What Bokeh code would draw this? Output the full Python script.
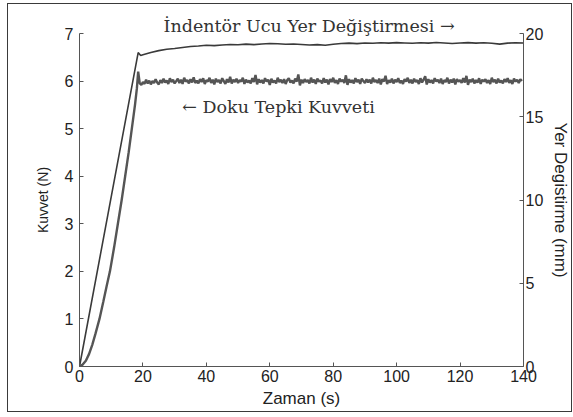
import numpy as np
from bokeh.plotting import figure
from bokeh.models import Range1d, LinearAxis, Label, FixedTicker
from bokeh.embed import file_html
from bokeh.resources import INLINE

# Doku tepki kuvveti (N): yükleme rampası
ramp_t = [0, 1, 2, 3, 4, 5, 6.3, 7.5, 8.5, 9.6, 10.9, 12.1, 13.3, 14.4,
          15.5, 16.5, 17.5, 18.1, 18.5, 19.0]
ramp_f = [0, 0.04, 0.12, 0.26, 0.45, 0.68, 1.0, 1.36, 1.67, 2.0, 2.5, 3.0,
          3.5, 4.0, 4.5, 5.0, 5.5, 5.85, 6.2, 5.95]

# Doku tepki kuvveti (N): sabit konumda tutma, 0.5 s aralıklarla
hold_start = 19.5
hold_step = 0.5
hold_f = [
    5.92, 5.98, 5.94, 6.03, 5.95, 6.01, 5.93, 6.00, 5.96, 6.04, 5.97, 5.93,
    6.02, 5.96, 6.05, 5.97, 6.01, 5.94, 6.06, 5.98, 6.03, 5.95, 6.00, 6.05,
    5.96, 6.03, 5.94, 6.07, 5.99, 6.02, 5.95, 6.04, 5.97, 6.08, 5.96, 6.01,
    5.95, 6.04, 5.98, 6.06, 5.94, 6.02, 5.99, 6.07, 5.96, 6.03, 5.93, 6.05,
    5.98, 6.02, 5.95, 6.06, 6.00, 5.94, 6.04, 5.97, 6.09, 5.95, 6.03, 5.98,
    6.05, 5.96, 6.02, 5.99, 6.07, 5.94, 6.03, 5.97, 6.01, 5.95, 6.06, 5.98,
    6.13, 5.93, 6.04, 5.97, 6.02, 5.95, 6.06, 5.99, 6.03, 5.92, 6.05, 5.97,
    6.01, 5.95, 6.07, 5.98, 6.03, 5.96, 6.04, 5.94, 6.02, 6.06, 5.97, 6.01,
    5.95, 6.05, 5.99, 6.14, 5.91, 6.03, 5.96, 6.04, 5.98, 6.02, 5.95, 6.07,
    5.97, 6.03, 5.94, 6.05, 5.99, 6.01, 5.95, 6.06, 5.97, 6.03, 5.93, 6.04,
    5.98, 6.07, 5.96, 6.02, 5.94, 6.05, 5.99, 6.03, 5.96, 6.12, 5.92, 6.04,
    5.97, 6.02, 5.95, 6.06, 5.98, 6.03, 5.94, 6.05, 6.00, 5.96, 6.04, 5.97,
    6.03, 5.95, 6.07, 5.98, 6.02, 5.96, 6.05, 5.93, 6.04, 5.99, 6.11, 5.94,
    6.02, 5.97, 6.05, 5.95, 6.03, 5.98, 6.06, 5.96, 6.01, 5.94, 6.04, 5.99,
    6.07, 5.96, 6.03, 5.95, 6.05, 5.98, 6.02, 5.94, 6.06, 5.97, 6.03, 6.10,
    5.93, 6.04, 5.97, 6.02, 5.95, 6.06, 5.99, 6.03, 5.96, 6.05, 5.94, 6.02,
    5.98, 6.07, 5.95, 6.03, 5.97, 6.05, 5.93, 6.04, 5.99, 6.02, 5.96, 6.06,
    5.97, 6.11, 5.92, 6.03, 5.98, 6.05, 5.95, 6.02, 5.97, 6.06, 5.94, 6.03,
    5.99, 6.04, 5.96, 6.02, 5.94, 6.07, 5.98, 6.03, 5.95, 6.05, 5.97, 6.01,
    5.95, 6.04, 5.98, 6.06, 5.96, 6.02, 5.94, 6.05, 5.99, 6.03, 5.96, 6.04,
    6.00,
]

# İndentör ucu yer değiştirmesi (mm)
disp_t = [0, 18.5, 19.3, 20.0, 22.5, 25.0, 27.5, 30.0, 32.5, 35.0, 37.5,
          40.0, 42.5, 45.0, 47.5, 50.0, 52.5, 55.0, 57.5, 60.0, 62.5, 65.0,
          67.5, 70.0, 72.5, 75.0, 77.5, 80.0, 82.5, 85.0, 87.5, 90.0, 92.5,
          95.0, 97.5, 100.0, 102.5, 105.0, 107.5, 110.0, 112.5, 115.0, 117.5,
          120.0, 122.5, 125.0, 127.5, 130.0, 132.5, 135.0, 137.5, 140.0]
disp_mm = [0, 18.85, 18.68, 18.72, 18.86, 18.97, 19.05, 19.10, 19.16, 19.22,
           19.25, 19.29, 19.27, 19.31, 19.34, 19.32, 19.36, 19.33, 19.37,
           19.40, 19.38, 19.35, 19.37, 19.34, 19.31, 19.33, 19.29, 19.35,
           19.40, 19.42, 19.39, 19.43, 19.41, 19.44, 19.42, 19.45, 19.43,
           19.41, 19.44, 19.42, 19.46, 19.43, 19.40, 19.43, 19.45, 19.42,
           19.44, 19.41, 19.36, 19.42, 19.44, 19.43]

x_ticks = [0, 20, 40, 60, 80, 100, 120, 140]
f_ticks = [0, 1, 2, 3, 4, 5, 6, 7]
d_ticks = [0, 5, 10, 15, 20]

force_t = ramp_t + list(hold_start + hold_step * np.arange(len(hold_f)))
force_n = ramp_f + hold_f

SANS = "Liberation Sans"
SERIF = "DejaVu Serif"

p = figure(width=565, height=409, output_backend="svg", toolbar_location=None,
           x_range=Range1d(0, 140), y_range=Range1d(0, 7),
           min_border_left=71, min_border_right=47, min_border_top=29,
           min_border_bottom=47, margin=(3, 0, 0, 7),
           styles={"border": "1px solid #3a3a3a"})
p.extra_y_ranges = {"disp": Range1d(0, 20)}
p.grid.visible = False
p.outline_line_color = None
p.background_fill_color = "white"
p.border_fill_color = "white"

# upper caption sits just above the frame, as the plot title
p.title.text = "İndentör Ucu Yer Değiştirmesi →"
p.title.align = "left"
p.title.offset = 84
p.title.standoff = -5
p.title.text_font = SERIF
p.title.text_font_size = "17.5px"
p.title.text_font_style = "normal"
p.title.text_color = "#333333"

p.line(disp_t, disp_mm, y_range_name="disp", line_color="#3a3a3a", line_width=1.6)
p.line(force_t, force_n, line_color="#555555", line_width=2.4)

right = LinearAxis(y_range_name="disp", axis_label="Yer Degistirme (mm)")
p.add_layout(right, "right")

for ax, ticks in ((p.xaxis[0], x_ticks), (p.yaxis[0], f_ticks), (right, d_ticks)):
    ax.ticker = FixedTicker(ticks=ticks)
    ax.minor_tick_line_color = None
    ax.major_tick_in = 4
    ax.major_tick_out = 0
    ax.axis_line_color = "#555555"
    ax.major_tick_line_color = "#555555"
    ax.major_label_text_font = SANS
    ax.major_label_text_font_size = "16px"
    ax.major_label_text_color = "#222222"
    ax.axis_label_text_font = SANS
    ax.axis_label_text_font_style = "normal"
    ax.axis_label_text_color = "#222222"

p.xaxis[0].axis_label = "Zaman (s)"
p.yaxis[0].axis_label = "Kuvvet (N)"
p.xaxis[0].axis_label_text_font_size = "17px"
p.yaxis[0].axis_label_text_font_size = "14px"
right.axis_label_text_font_size = "17px"
p.xaxis[0].major_label_standoff = 3
p.yaxis[0].major_label_standoff = 6
right.major_label_standoff = 2
p.xaxis[0].axis_label_standoff = 4
p.yaxis[0].axis_label_standoff = 11
right.axis_label_standoff = 5

p.add_layout(Label(x=32.4, y=5.45, text="← Doku Tepki Kuvveti",
                   text_font=SERIF, text_font_size="17.5px", text_color="#333333",
                   text_baseline="alphabetic"))

open("out.html", "w").write(file_html(p, INLINE))
